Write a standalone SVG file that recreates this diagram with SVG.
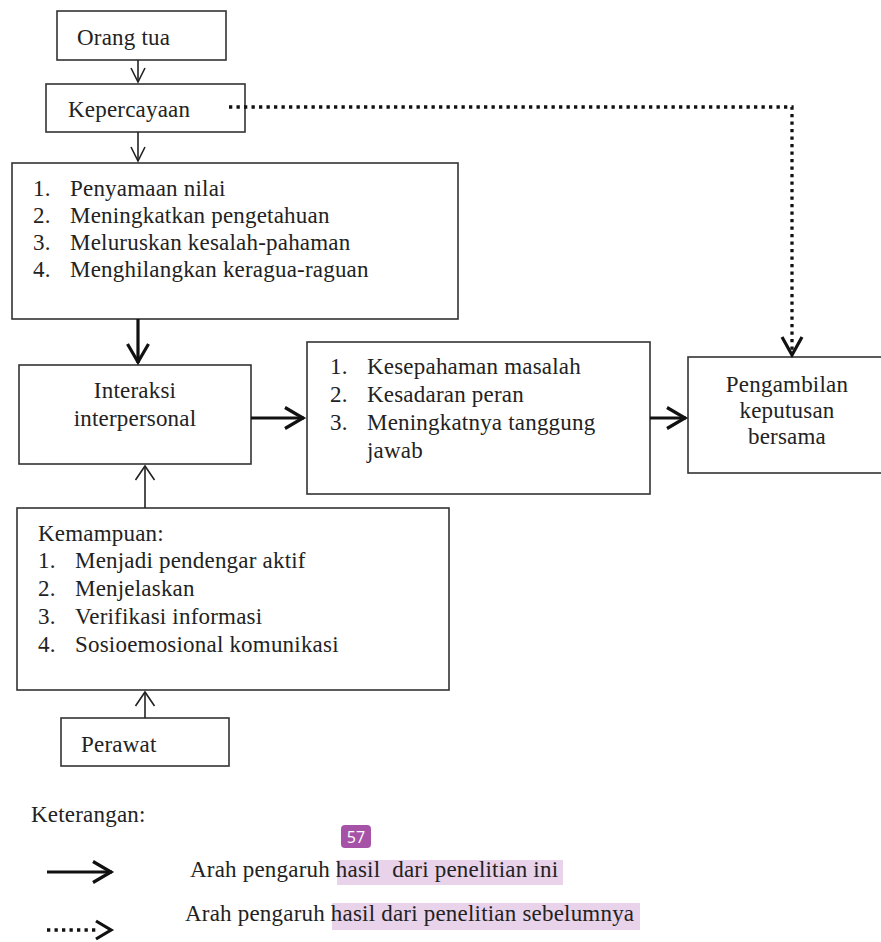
<svg xmlns="http://www.w3.org/2000/svg" width="881" height="942" viewBox="0 0 881 942">
<style>
.box{fill:#fff;stroke:#333;stroke-width:1.6}
text{font-family:"Liberation Serif","Times New Roman",serif;font-size:23px;fill:#222;letter-spacing:0.2px}
.c{text-anchor:middle}
.thin{stroke:#222;stroke-width:1.6;fill:none}
.thick{stroke:#111;stroke-width:3.2;fill:none}
.dot{stroke:#111;stroke-width:3.3;fill:none;stroke-dasharray:3.3 4.2}
.hl{fill:#e9d3ea}
</style>
<defs>
<marker id="hThin" markerUnits="userSpaceOnUse" orient="auto" refX="0" refY="0" markerWidth="20" markerHeight="20" overflow="visible">
<path d="M-14,-7 L0,0 L-14,7" fill="none" stroke="#222" stroke-width="1.6"/>
</marker>
<marker id="hUp" markerUnits="userSpaceOnUse" orient="auto" refX="0" refY="0" markerWidth="20" markerHeight="20" overflow="visible">
<path d="M-14,-9.5 L0,0 L-14,9.5" fill="none" stroke="#222" stroke-width="1.6"/>
</marker>
<marker id="hThick" markerUnits="userSpaceOnUse" orient="auto" refX="0" refY="0" markerWidth="30" markerHeight="30" overflow="visible">
<path d="M-19,-10.5 L-1,0 L-19,10.5" fill="none" stroke="#111" stroke-width="3.2"/>
</marker>
</defs>

<g id="orang-tua">
<rect class="box" x="57" y="11" width="169" height="49"/>
<text x="77" y="45">Orang tua</text>
</g>
<g id="kepercayaan">
<rect class="box" x="46" y="84" width="199" height="48"/>
<text x="68" y="117">Kepercayaan</text>
</g>
<g id="faktor">
<rect class="box" x="12" y="163" width="446" height="156"/>
<text x="33" y="196">1.</text><text x="70" y="196">Penyamaan nilai</text>
<text x="33" y="223">2.</text><text x="70" y="223">Meningkatkan pengetahuan</text>
<text x="33" y="250">3.</text><text x="70" y="250">Meluruskan kesalah-pahaman</text>
<text x="33" y="277">4.</text><text x="70" y="277">Menghilangkan keragua-raguan</text>
</g>
<g id="interaksi">
<rect class="box" x="19" y="365" width="232" height="99"/>
<text class="c" x="135" y="398">Interaksi</text>
<text class="c" x="135" y="426">interpersonal</text>
</g>
<g id="hasil">
<rect class="box" x="307" y="342" width="343" height="152"/>
<text x="330" y="374">1.</text><text x="367" y="374">Kesepahaman masalah</text>
<text x="330" y="402">2.</text><text x="367" y="402">Kesadaran peran</text>
<text x="330" y="430">3.</text><text x="367" y="430">Meningkatnya tanggung</text>
<text x="367" y="458">jawab</text>
</g>
<g id="pengambilan">
<rect class="box" x="688" y="357" width="210" height="116"/>
<text class="c" x="787" y="392">Pengambilan</text>
<text class="c" x="787" y="418">keputusan</text>
<text class="c" x="787" y="444">bersama</text>
</g>
<g id="kemampuan">
<rect class="box" x="17" y="508" width="432" height="182"/>
<text x="38" y="541">Kemampuan:</text>
<text x="38" y="568">1.</text><text x="75" y="568">Menjadi pendengar aktif</text>
<text x="38" y="596">2.</text><text x="75" y="596">Menjelaskan</text>
<text x="38" y="624">3.</text><text x="75" y="624">Verifikasi informasi</text>
<text x="38" y="652">4.</text><text x="75" y="652">Sosioemosional komunikasi</text>
</g>
<g id="perawat">
<rect class="box" x="61" y="718" width="168" height="48"/>
<text x="81" y="752">Perawat</text>
</g>

<g id="connectors">
<line class="thin" x1="138" y1="60" x2="138" y2="82" marker-end="url(#hThin)"/>
<line class="thin" x1="138" y1="132" x2="138" y2="161" marker-end="url(#hThin)"/>
<line class="thick" x1="138" y1="319" x2="138" y2="363" marker-end="url(#hThick)"/>
<line class="thick" x1="251" y1="418" x2="304" y2="418" marker-end="url(#hThick)"/>
<line class="thick" x1="650" y1="418" x2="686" y2="418" marker-end="url(#hThick)"/>
<line class="thin" x1="145" y1="508" x2="145" y2="466" marker-end="url(#hUp)"/>
<line class="thin" x1="145" y1="718" x2="145" y2="692" marker-end="url(#hUp)"/>
<polyline class="dot" points="229,107 792,107 792,355"/>
<path d="M782,337 L792,355 L802,337" fill="none" stroke="#111" stroke-width="3.2"/>
</g>

<g id="legend">
<text x="31" y="822">Keterangan:</text>
<rect x="341" y="825" width="30" height="23" rx="4" fill="#a652a7"/>
<text x="356" y="843" style="font-family:'Open Sans','Noto Sans',sans-serif;font-size:16px;fill:#fff;letter-spacing:0" text-anchor="middle">57</text>
<line class="thick" x1="47" y1="872" x2="112" y2="872" marker-end="url(#hThick)"/>
<rect class="hl" x="337" y="860" width="226" height="25"/>
<text x="190" y="877" xml:space="preserve">Arah pengaruh hasil  dari penelitian ini</text>
<line class="dot" x1="47" y1="930" x2="96" y2="930"/>
<path d="M96,921 L111,930 L96,939" fill="none" stroke="#111" stroke-width="3.2"/>
<rect class="hl" x="332" y="903" width="308" height="27"/>
<text x="185" y="921">Arah pengaruh hasil dari penelitian sebelumnya</text>
</g>
</svg>
